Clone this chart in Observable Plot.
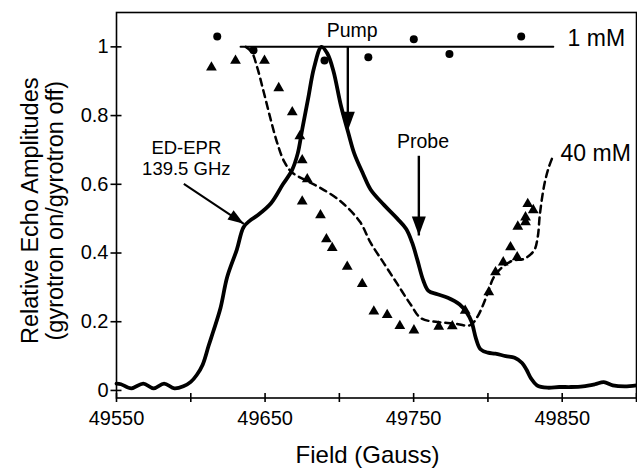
<!DOCTYPE html>
<html><head><meta charset="utf-8">
<script src="https://cdn.jsdelivr.net/npm/d3@7"></script>
<script src="https://cdn.jsdelivr.net/npm/@observablehq/plot@0.6"></script>
<style>body{margin:0;background:#fff;} svg{display:block;}</style>
</head><body><div id="chart"></div>
<script>
// Axis ticks
const xTicks = [49550, 49600, 49650, 49700, 49750, 49800, 49850, 49900];
const xTickLabels = [49550, 49650, 49750, 49850];
const yTicks = [0, 0.2, 0.4, 0.6, 0.8, 1];

// ED-EPR spectrum at 139.5 GHz (solid line): [field, amplitude]
const edEpr = [[49550,0.02],[49553,0.018],[49560,0.006],[49568,0.02],[49575,0.006],[49582,0.02],[49589,0.006],[49595,0.012],[49600,0.025],[49604,0.045],[49608,0.075],[49612,0.13],[49615,0.17],[49620,0.24],[49624.5,0.33],[49631,0.41],[49635.5,0.475],[49640,0.495],[49645,0.51],[49654,0.545],[49662,0.6],[49668,0.64],[49672,0.69],[49675,0.76],[49679,0.85],[49683,0.94],[49688,1.0],[49692,0.98],[49696,0.93],[49701,0.83],[49706,0.75],[49710,0.69],[49716,0.63],[49721,0.585],[49730,0.54],[49739,0.5],[49745,0.47],[49749,0.43],[49752.5,0.38],[49756.5,0.32],[49760,0.29],[49766,0.28],[49773,0.27],[49781,0.25],[49786,0.225],[49789,0.2],[49792,0.15],[49795,0.12],[49800,0.11],[49805,0.107],[49812,0.1],[49818,0.095],[49823,0.08],[49826,0.06],[49829,0.035],[49833,0.015],[49840,0.008],[49848,0.01],[49856,0.01],[49864,0.012],[49872,0.018],[49878,0.024],[49884,0.015],[49892,0.012],[49900,0.015]];

// 40 mM fit (dashed line)
const fit40 = [[49637,1.0],[49641,0.985],[49644.7,0.94],[49649,0.87],[49653.7,0.79],[49658.2,0.72],[49663,0.665],[49668,0.635],[49678,0.61],[49687,0.59],[49701,0.55],[49714,0.49],[49721,0.43],[49730,0.37],[49739,0.31],[49748,0.25],[49755,0.21],[49766,0.199],[49777,0.195],[49788,0.19],[49793,0.215],[49798.7,0.27],[49804,0.33],[49810,0.36],[49816.7,0.378],[49824.3,0.383],[49831,0.407],[49833.5,0.446],[49835,0.514],[49838,0.6],[49841,0.65],[49843.6,0.68]];

// 40 mM measured points (triangles)
const pts40 = [[49613.9,0.94],[49630.1,0.96],[49649.6,0.96],[49659.2,0.88],[49668.3,0.81],[49673.4,0.74],[49675,0.67],[49678.4,0.615],[49675,0.55],[49687.3,0.51],[49691.3,0.44],[49695.2,0.415],[49705.3,0.36],[49715.4,0.31],[49723.2,0.23],[49732.2,0.22],[49740.7,0.188],[49750.2,0.175],[49766.9,0.186],[49776,0.187],[49784.7,0.232],[49800.6,0.286],[49805.1,0.344],[49810.3,0.373],[49815.2,0.417],[49819.7,0.388],[49820.1,0.477],[49825.3,0.49],[49825.3,0.504],[49826.8,0.543],[49830.5,0.525]];

// 1 mM measured points (dots) and its level line
const pts1 = [[49617.8,1.03],[49642.2,0.99],[49690,0.96],[49719.5,0.97],[49750.1,1.022],[49774.1,0.979],[49822.4,1.03]];
const line1 = [[49633.5,1.0],[49844,1.0]];

// Arrows (data coordinates; x2/y2 is the tip)
const arrows = [
  {name: "Pump", x1: 49705.7, y1: 1.0, x2: 49705.7, y2: 0.756},
  {name: "Probe", x1: 49753.5, y1: 0.683, x2: 49753.5, y2: 0.451}
];
const eprArrow = [{x1: 49595.3, y1: 0.601, x2: 49635.7, y2: 0.485}];

// Annotation labels (data coordinates)
const centeredLabels = [
  {text: "Pump", x: 49708.6, y: 1.048},
  {text: "Probe", x: 49756.3, y: 0.724}
];
const eprLabel = [{text: "ED-EPR\n139.5 GHz", x: 49597, y: 0.677}];
const seriesLabels = [
  {text: "1 mM", x: 49853.6, y: 1.023},
  {text: "40 mM", x: 49848.9, y: 0.689}
];

const font = "Liberation Sans, Arial, Helvetica, sans-serif";

const chart = Plot.plot({
  width: 637, height: 470,
  marginLeft: 116, marginRight: 1, marginTop: 12, marginBottom: 72.5,
  style: {fontFamily: font, background: "#fff", color: "#000"},
  x: {domain: [49550, 49900]},
  y: {domain: [-0.022, 1.1]},
  marks: [
    Plot.frame({stroke: "#000", strokeWidth: 1.6}),
    Plot.axisX({ticks: xTicks, tickSize: 9, dy: -4.5, tickPadding: 8, fontSize: 20, strokeWidth: 1.6,
      tickFormat: d => xTickLabels.includes(d) ? String(d) : "", label: null}),
    Plot.axisY({ticks: yTicks, tickSize: 11, dx: 5.5, tickPadding: 2.5, fontSize: 20, strokeWidth: 1.6,
      tickFormat: d => String(d), label: null}),
    Plot.text(["Field (Gauss)"], {frameAnchor: "bottom", x: 49719, dy: 57.5, fontSize: 24, textAnchor: "middle", lineAnchor: "middle"}),
    Plot.text(["Relative Echo Amplitudes\n(gyrotron on/gyrotron off)"], {frameAnchor: "left", y: 0.523, dx: -74, rotate: -90, fontSize: 23.5, lineHeight: 1.07, textAnchor: "middle", lineAnchor: "middle"}),
    Plot.line(edEpr, {x: d => d[0], y: d => d[1], stroke: "#000", strokeWidth: 3.8, curve: "catmull-rom"}),
    Plot.line(fit40, {x: d => d[0], y: d => d[1], stroke: "#000", strokeWidth: 2.5, strokeDasharray: "7,5", curve: "catmull-rom"}),
    Plot.line(line1, {x: d => d[0], y: d => d[1], stroke: "#000", strokeWidth: 2}),
    Plot.dot(pts40, {x: d => d[0], y: d => d[1], symbol: "triangle", r: 4, fill: "#000", stroke: "none"}),
    Plot.dot(pts1, {x: d => d[0], y: d => d[1], r: 4, fill: "#000", stroke: "none"}),
    Plot.link(arrows, {x1: "x1", y1: "y1", x2: "x2", y2: "y2", stroke: "#000", strokeWidth: 2.4}),
    Plot.vector(arrows, {x: "x2", y: "y2", anchor: "end", rotate: 180, length: 19, r: 7, shape: "spike", fill: "#000", stroke: "none"}),
    Plot.link(eprArrow, {x1: "x1", y1: "y1", x2: "x2", y2: "y2", stroke: "#000", strokeWidth: 2}),
    Plot.vector(eprArrow, {x: "x2", y: "y2", anchor: "end", rotate: 123.7, length: 16, r: 5.5, shape: "spike", fill: "#000", stroke: "none"}),
    Plot.text(centeredLabels, {x: "x", y: "y", text: "text", fontSize: 19.5, textAnchor: "middle", lineAnchor: "middle"}),
    Plot.text(eprLabel, {x: "x", y: "y", text: "text", fontSize: 18.5, lineHeight: 1.12, textAnchor: "middle", lineAnchor: "middle"}),
    Plot.text(seriesLabels, {x: "x", y: "y", text: "text", fontSize: 23, textAnchor: "start", lineAnchor: "middle"})
  ]
});
document.getElementById("chart").append(chart);
</script>
</body></html>
